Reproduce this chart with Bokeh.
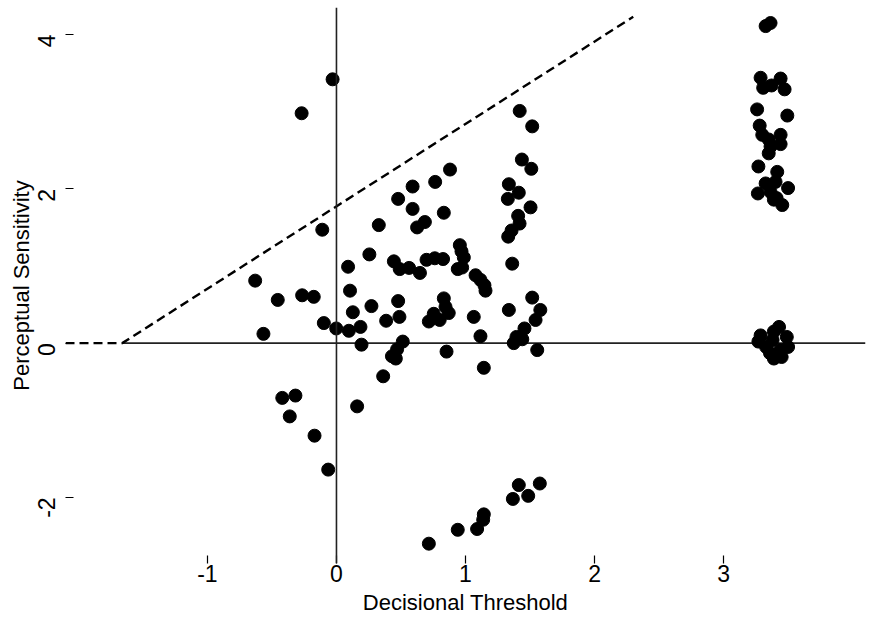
import math
from bokeh.plotting import figure
from bokeh.models import Range1d, FixedTicker, Span, ColumnDataSource
from bokeh.embed import file_html
from bokeh.resources import INLINE

# Decisional threshold (x) and perceptual sensitivity (y) per observer
threshold = [
    -0.03, -0.27, -0.11, -0.63, -0.455, -0.266, -0.176, -0.566, -0.098, -0.002,
    0.09, 0.105, 0.127, 0.096, 0.186, 0.194, 0.255, 0.271, 0.328, 0.385,
    0.478, 0.445, 0.49, 0.563, 0.647, 0.478, 0.488, 0.59, 0.59, 0.765,
    0.625, 0.685, 0.698, 0.762, 0.826, 0.832, 0.88, 0.514, 0.47, 0.43,
    0.46, 0.362, -0.42, -0.318, -0.362, -0.17, 0.16, -0.064, 0.716, 0.956,
    0.969, 0.987, 0.94, 0.974, 1.078, 1.116, 1.147, 1.155, 0.832, 0.845,
    0.87, 0.754, 0.716, 0.80, 1.064, 1.116, 0.853, 1.142, 1.42, 1.517,
    1.437, 1.51, 1.336, 1.413, 1.328, 1.504, 1.408, 1.419, 1.357, 1.331,
    1.362, 1.517, 1.58, 1.336, 1.543, 1.457, 1.395, 1.44, 1.374, 1.556,
    0.94, 1.09, 1.137, 1.142, 1.367, 1.413, 1.486, 1.576,
    3.326, 3.364, 3.287, 3.442, 3.307, 3.372, 3.473, 3.26, 3.494, 3.28,
    3.30, 3.442, 3.35, 3.442, 3.364, 3.35, 3.27, 3.416, 3.326, 3.403,
    3.50, 3.266, 3.364, 3.411, 3.455, 3.39,
    3.43, 3.287, 3.49, 3.27, 3.38, 3.50, 3.44, 3.36, 3.39, 3.45, 3.33, 3.39,
]
sensitivity = [
    3.42, 2.98, 1.47, 0.81, 0.56, 0.62, 0.60, 0.12, 0.26, 0.19,
    0.99, 0.68, 0.40, 0.16, 0.21, -0.02, 1.15, 0.48, 1.53, 0.29,
    1.87, 1.06, 0.96, 0.975, 0.91, 0.545, 0.34, 2.03, 1.74, 2.09,
    1.50, 1.57, 1.08, 1.10, 1.09, 1.69, 2.25, 0.02, -0.08, -0.17,
    -0.20, -0.43, -0.71, -0.68, -0.95, -1.20, -0.82, -1.64, -2.60, 1.27,
    1.19, 1.11, 0.96, 0.98, 0.88, 0.82, 0.75, 0.68, 0.58, 0.47,
    0.39, 0.38, 0.28, 0.30, 0.34, 0.09, -0.11, -0.32, 3.01, 2.81,
    2.38, 2.26, 2.06, 1.95, 1.87, 1.76, 1.65, 1.55, 1.46, 1.38,
    1.03, 0.59, 0.43, 0.43, 0.30, 0.19, 0.08, 0.05, 0.0, -0.09,
    -2.42, -2.41, -2.29, -2.22, -2.02, -1.84, -1.98, -1.82,
    4.11, 4.15, 3.44, 3.43, 3.31, 3.34, 3.29, 3.03, 2.95, 2.82,
    2.70, 2.70, 2.64, 2.58, 2.55, 2.46, 2.29, 2.22, 2.07, 2.09,
    2.01, 1.94, 1.96, 1.88, 1.79, 1.86,
    0.21, 0.10, 0.08, 0.02, 0.04, -0.05, -0.09, -0.13, -0.20, -0.18, -0.05, 0.15,
]

# Dashed boundary (flat, then rising) and the solid zero reference
boundary_x = [-2.1, -1.66, 2.30]
boundary_y = [0.0, 0.0, 4.23]
zero_line_x = [-1.66, 4.1]
zero_line_y = [0.0, 0.0]

x_ticks = [-1, 0, 1, 2, 3]
y_ticks = [-2, 0, 2, 4]
x_lim = (-2.1, 4.1)
y_lim = (-2.857, 4.351)

FONT = "Liberation Sans"

p = figure(
    frame_width=800, frame_height=556,
    x_range=Range1d(*x_lim), y_range=Range1d(*y_lim),
    output_backend="svg", toolbar_location=None,
    min_border_left=65, min_border_right=9, min_border_top=7, min_border_bottom=0,
    background_fill_color="white", border_fill_color="white",
)
p.outline_line_color = None
p.xgrid.visible = False
p.ygrid.visible = False

p.add_layout(Span(location=0, dimension="height", line_color="#222222", line_width=1.6))
p.line(zero_line_x, zero_line_y, line_color="#222222", line_width=1.6)
p.line(boundary_x, boundary_y, line_color="black", line_width=2.4, line_dash="9 5")

src = ColumnDataSource(dict(x=threshold, y=sensitivity))
p.scatter("x", "y", source=src, size=13, fill_color="black", line_color="black")

for ax in (p.xaxis[0], p.yaxis[0]):
    ax.axis_line_color = None
    ax.major_tick_line_color = "black"
    ax.major_tick_line_width = 1.2
    ax.major_tick_in = 8
    ax.major_tick_out = 0
    ax.minor_tick_line_color = None
    ax.major_label_text_font = FONT
    ax.major_label_text_font_size = "23px"
    ax.major_label_text_color = "black"
    ax.axis_label_text_font = FONT
    ax.axis_label_text_font_size = "22px"
    ax.axis_label_text_font_style = "normal"
    ax.axis_label_text_color = "black"

p.xaxis.ticker = FixedTicker(ticks=x_ticks)
p.yaxis.ticker = FixedTicker(ticks=y_ticks)
p.xaxis.major_label_overrides = {t: str(t) for t in x_ticks}
p.yaxis.major_label_overrides = {t: str(t) for t in y_ticks}
p.xaxis.axis_label = "Decisional Threshold"
p.yaxis.axis_label = "Perceptual Sensitivity"
p.xaxis.major_label_standoff = 1
p.xaxis.axis_label_standoff = 5
p.yaxis.major_label_orientation = math.pi / 2
p.yaxis.major_label_standoff = 19
p.yaxis.axis_label_standoff = -7

open("out.html", "w").write(file_html(p, INLINE))
